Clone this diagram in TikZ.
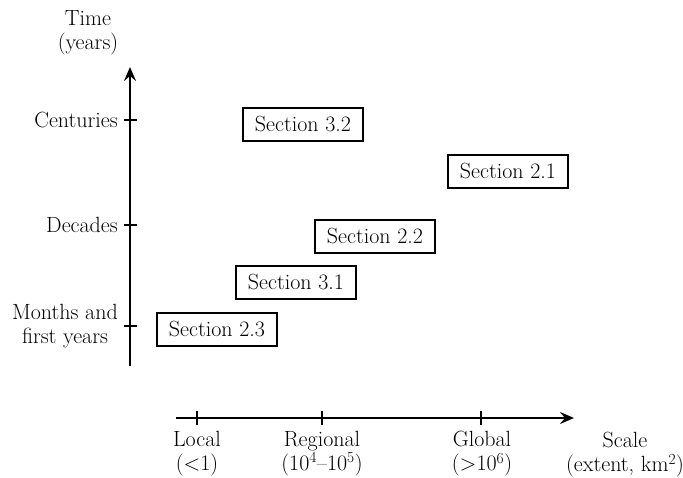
\documentclass[tikz,border=0pt]{standalone}
\usetikzlibrary{arrows.meta}
\tikzset{
  sect/.style={draw, line width=2pt, minimum width=120pt, minimum height=33pt,
    inner sep=0pt, font=\fontsize{22}{24}\selectfont},
  lbl/.style={font=\fontsize{22}{24}\selectfont, align=center, inner sep=0pt},
  axis/.style={line width=2pt, -{Stealth[length=14pt,width=12pt,inset=5pt]}},
  axtick/.style={line width=1.6pt}
}
\begin{document}
\begin{tikzpicture}[x=1pt,y=-1pt]
  \useasboundingbox (0,0) rectangle (683,477);
  % axes
  \coordinate (t0) at (130,366);
  \coordinate (t1) at (130,67);
  \coordinate (s0) at (176,418);
  \coordinate (s1) at (574,418);
  \draw[axis] (t0) -- (t1);
  \draw[axis] (s0) -- (s1);
  % ticks
  \foreach \y/\n in {120/cent,225/dec,326/mon}{
    \coordinate (\n) at (130,\y);
    \draw[axtick] ([xshift=-6pt]\n) -- ([xshift=7pt]\n);
  }
  \foreach \x/\n in {197/loc,322/reg,481/glob}{
    \coordinate (\n) at (\x,418);
    \draw[axtick] ([yshift=7pt]\n) -- ([yshift=-7pt]\n);
  }
  % axis labels
  \node[lbl] (time) at (88,33) {Time\\(years)};
  \node[lbl, anchor=east] (centuries) at (118,120) {Centuries};
  \node[lbl, anchor=east] (decades) at (118,225) {Decades};
  \node[lbl, anchor=east] (months) at (118,326) {Months and\\first years};
  \node[lbl, anchor=north] (local) at (197,431) {Local\\(\textless1)};
  \node[lbl, anchor=north] (regional) at (322,431) {Regional\\(10\textsuperscript{4}--10\textsuperscript{5})};
  \node[lbl, anchor=north] (global) at (482,431) {Global\\(\textgreater10\textsuperscript{6})};
  \node[lbl, anchor=north] (scale) at (625,432) {Scale\\(extent, km\textsuperscript{2})};
  % sections
  \node[sect] (s32) at (303,124) {Section 3.2};
  \node[sect] (s21) at (508,171) {Section 2.1};
  \node[sect] (s22) at (375,236) {Section 2.2};
  \node[sect] (s31) at (296,282) {Section 3.1};
  \node[sect] (s23) at (217,329) {Section 2.3};
\end{tikzpicture}
\end{document}
